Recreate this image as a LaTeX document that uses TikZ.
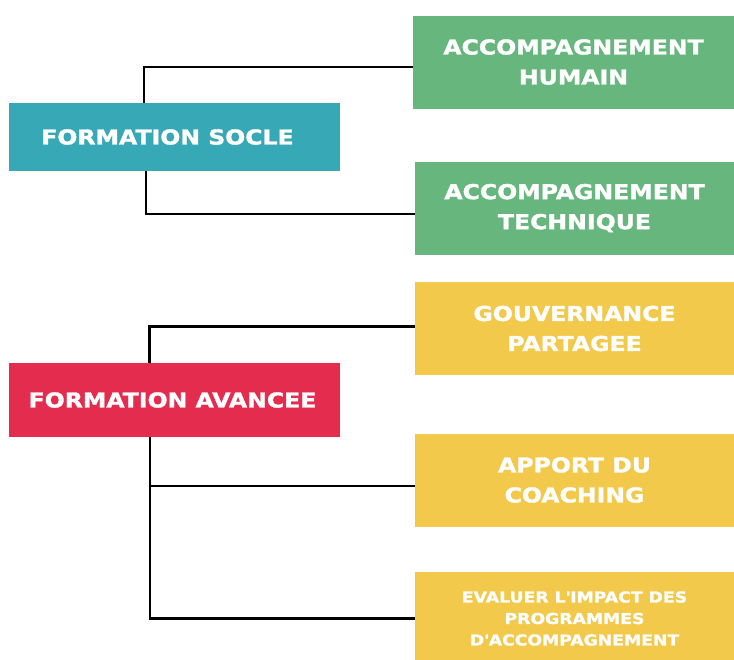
\documentclass[tikz,border=0pt]{standalone}
\usepackage{fontspec}
\setmainfont{DejaVu Sans}[FakeStretch=1.15,BoldFeatures={FakeBold=1.6}]

\definecolor{tealsocle}{RGB}{55,168,181}
\definecolor{redavancee}{RGB}{228,44,79}
\definecolor{greenaccomp}{RGB}{103,182,125}
\definecolor{yellowaxe}{RGB}{242,201,74}

\tikzstyle{box}=[rectangle,inner sep=0pt,text=white,align=center,
  font=\bfseries\fontsize{20.5}{30}\selectfont]
\tikzstyle{mainbox}=[box,minimum width=331pt]
\tikzstyle{subbox}=[box,minimum width=319pt,minimum height=93pt]
\tikzstyle{link}=[draw=black,line width=2.4pt]

\begin{document}
\begin{tikzpicture}[x=1pt,y=-1pt]
          \useasboundingbox (0,0) rectangle (734,659);

          % formations
          \node (socle) at (174.5,137) [mainbox,fill=tealsocle,minimum height=68pt] {\hspace*{-14pt}FORMATION SOCLE};
          \node (avancee) at (174.5,400) [mainbox,fill=redavancee,minimum height=74pt] {\hspace*{-4pt}FORMATION AVANCEE};

          % accompagnements
          \node (hum) at (573.5,62) [subbox,fill=greenaccomp,minimum width=321pt] {ACCOMPAGNEMENT\\HUMAIN};
          \node (tech) at (574.5,208) [subbox,fill=greenaccomp] {ACCOMPAGNEMENT\\TECHNIQUE};
          \node (goup) at (574.5,328.5) [subbox,fill=yellowaxe] {GOUVERNANCE\\PARTAGEE};
          \node (coach) at (574.5,480) [subbox,fill=yellowaxe] {APPORT DU\\COACHING};
          \node (eval) at (574.5,618.5) [subbox,fill=yellowaxe,font=\bfseries\fontsize{15}{21.5}\selectfont]
            {EVALUER L\textquotesingle IMPACT DES\\PROGRAMMES\\D\textquotesingle ACCOMPAGNEMENT};

          \draw[link] ([yshift=-5pt]hum.west) -| ([xshift=-30.5pt]socle.north);
          \draw[link] ([yshift=-6pt]tech.west) -| ([xshift=-28.5pt]socle.south);

          \coordinate (trunk) at ([xshift=-24.5pt]avancee.south);
          \draw[link] ([yshift=2pt]goup.west) -| ([xshift=-25pt]avancee.north);
          \draw[link] (eval.west) -| (trunk);
          \draw[link] ([yshift=-6pt]coach.west) -- ([yshift=-6pt]coach.west -| trunk);
        \end{tikzpicture}
\end{document}
